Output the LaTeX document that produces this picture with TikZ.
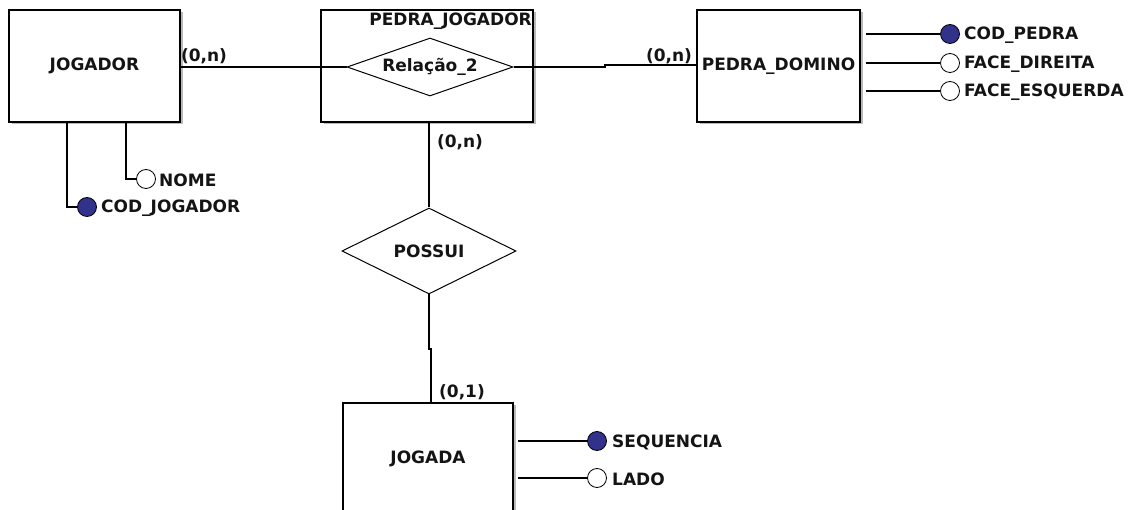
\documentclass[tikz,border=0pt]{standalone}
\usepackage{fontspec}
\setmainfont{DejaVu Sans}
\usetikzlibrary{shapes.geometric,shadows}
\definecolor{keyblue}{RGB}{50,50,140}
\definecolor{txt}{RGB}{20,20,20}
\begin{document}
\begin{tikzpicture}[x=1pt,y=-1pt,
  font=\fontsize{17}{19}\selectfont\bfseries,
  every node/.style={text=txt},
  entity/.style={draw=black, line width=1.5pt, fill=white, inner sep=0pt,
    minimum height=112pt,
    drop shadow={shadow xshift=2.5pt, shadow yshift=-2.5pt, fill=gray!55, opacity=1}},
  relship/.style={diamond, draw=black, line width=1pt, fill=white, inner sep=0pt},
  conn/.style={draw=black, line width=1.1pt},
  keyattr/.style={circle, draw=black, line width=0.8pt, fill=keyblue, minimum size=19pt, inner sep=0pt},
  plainattr/.style={circle, draw=black, line width=0.8pt, fill=white, minimum size=19pt, inner sep=0pt},
  attrtxt/.style={anchor=west, inner sep=0pt},
  card/.style={inner sep=0pt}]
\useasboundingbox (0,0) rectangle (1133,510);
\clip (0,0) rectangle (1133,510);
\fill[white] (0,0) rectangle (1133,510);

% entities
\node[entity, minimum width=171pt] (jog) at (94.5,66) {JOGADOR};
\node[entity, minimum width=212pt] (pj) at (427,66) {};
\node[anchor=north east, inner sep=0pt] (pjtitle) at (532,13) {PEDRA\_JOGADOR};
\node[relship, minimum width=166pt, minimum height=58pt, aspect=2.8] (rel) at (430,67) {Relação\_2};
\node[entity, minimum width=163pt] (dom) at (778.5,66) {PEDRA\_DOMINO};
\node[entity, minimum width=170pt] (jgd) at (428,459) {JOGADA};
\node[relship, minimum width=174pt, minimum height=86pt, aspect=2] (pos) at (429,251) {POSSUI};

% relationship connectors
\draw[conn] (jog.east |- rel.west) -- (rel.west);
\coordinate (j1) at (605,67);
\coordinate (j2) at (605,65);
\draw[conn] (rel.east) -- (j1) -- (j2) -- (j2 -| dom.west);
\node[card] (c1) at (204,56) {(0,n)};
\node[card] (c2) at (669,56) {(0,n)};

\coordinate (v1) at (429,123);
\draw[conn] (v1) -- (v1 |- pos.north);
\coordinate (v2) at (429,349);
\coordinate (v3) at (431,349);
\draw[conn] (pos.south) -- (v2) -- (v3) -- (v3 |- jgd.north);
\node[card] (c3) at (460,142) {(0,n)};
\node[card] (c4) at (462,392) {(0,1)};

% JOGADOR attributes
\node[keyattr] (codj) at (87,207) {};
\node[attrtxt] (codjt) at (101,208) {COD\_JOGADOR};
\node[plainattr] (nome) at (146,179) {};
\node[attrtxt] (nomet) at (159,180) {NOME};
\coordinate (ja) at (67,123);
\coordinate (jb) at (126,123);
\draw[conn] (ja) |- (codj.west);
\draw[conn] (jb) |- (nome.west);

% PEDRA_DOMINO attributes
\node[keyattr] (codp) at (950,34) {};
\node[attrtxt] (codpt) at (964,35) {COD\_PEDRA};
\node[plainattr] (fd) at (950,63) {};
\node[attrtxt] (fdt) at (964,64) {FACE\_DIREITA};
\node[plainattr] (fe) at (950,91) {};
\node[attrtxt] (fet) at (964,92) {FACE\_ESQUERDA};
\coordinate (d1) at (866,34);
\coordinate (d2) at (866,63);
\coordinate (d3) at (866,91);
\draw[conn] (d1) -- (codp.west);
\draw[conn] (d2) -- (fd.west);
\draw[conn] (d3) -- (fe.west);

% JOGADA attributes
\node[keyattr] (seq) at (597,441) {};
\node[attrtxt] (seqt) at (612,442) {SEQUENCIA};
\node[plainattr] (lado) at (597,478) {};
\node[attrtxt] (ladot) at (612,479) {LADO};
\coordinate (g1) at (518,441);
\coordinate (g2) at (518,478);
\draw[conn] (g1) -- (seq.west);
\draw[conn] (g2) -- (lado.west);
\end{tikzpicture}
\end{document}
